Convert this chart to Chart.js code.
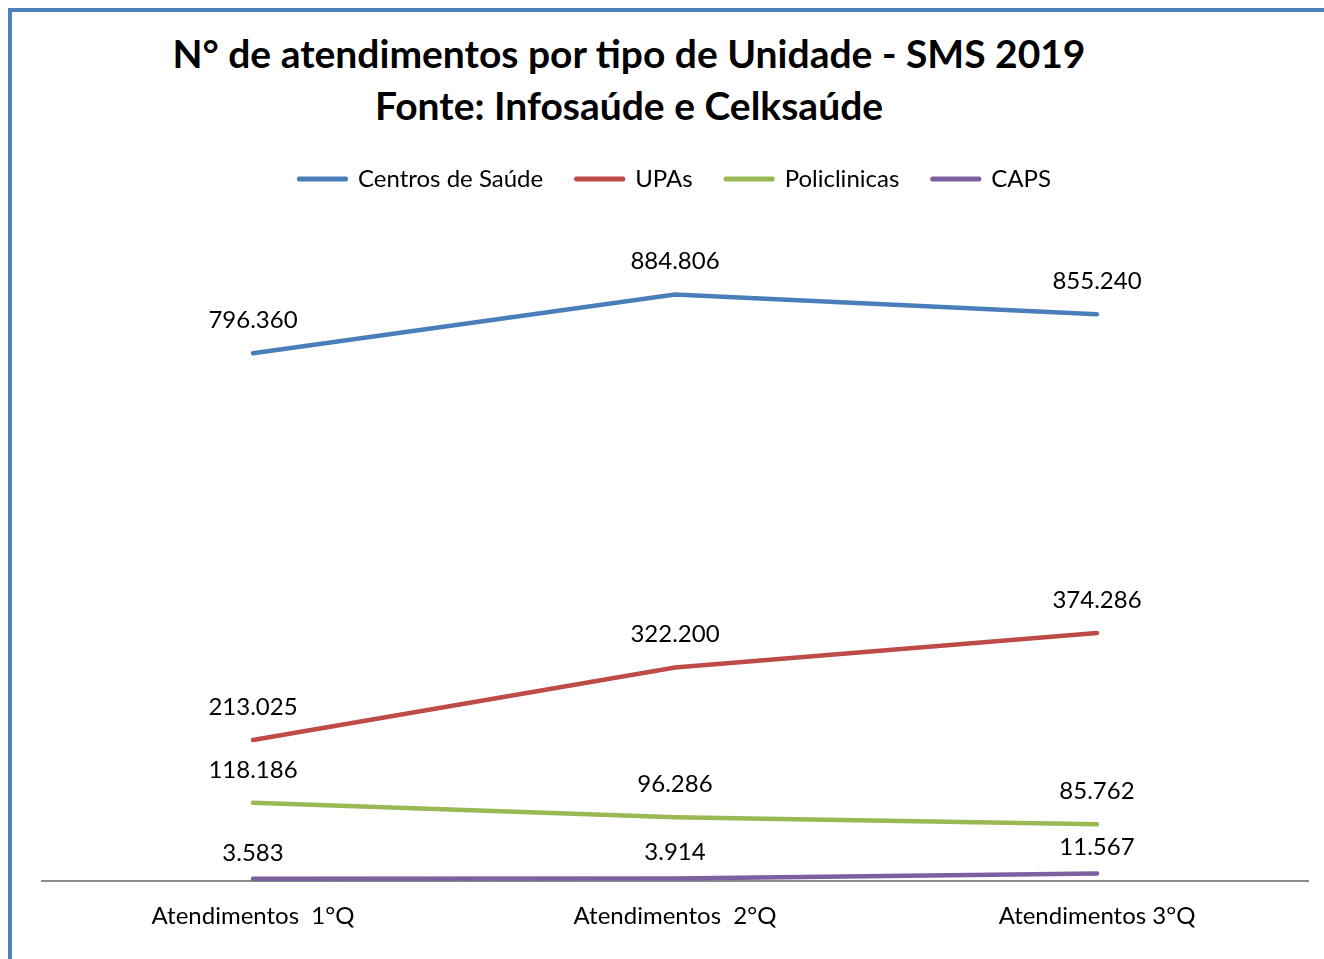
<!DOCTYPE html>
<html>
<head>
<meta charset="utf-8">
<script src="https://cdn.jsdelivr.net/npm/chart.js@4/dist/chart.umd.min.js"></script>
<style>
  html, body { margin: 0; padding: 0; background: #fff; overflow: hidden; }
  #frame {
    position: absolute; left: 8px; top: 8px; width: 1400px; height: 1000px;
    border-left: 4px solid #4F81BD; border-top: 4px solid #4F81BD;
  }
  #title {
    position: absolute; left: 0; width: 1258px; top: 27px;
    text-align: center; font-family: Lato, sans-serif; font-weight: bold;
    font-size: 39px; line-height: 52px; color: #000;
  }
  #wrap { position: absolute; left: 0; top: 0; width: 1324px; height: 959px; }
</style>
</head>
<body>
<div id="frame"></div>
<div id="title">N° de atendimentos por tipo de Unidade - SMS 2019<br>Fonte: Infosaúde e Celksaúde</div>
<div id="wrap"><canvas id="chart"></canvas></div>
<script>
// dados
const categorias = ['Atendimentos  1°Q', 'Atendimentos  2°Q', 'Atendimentos 3°Q'];
const centrosSaude = [796360, 884806, 855240];
const upas = [213025, 322200, 374286];
const policlinicas = [118186, 96286, 85762];
const caps = [3583, 3914, 11567];

const fmt = v => v.toLocaleString('de-DE');

// rótulos de valor acima de cada ponto
const valueLabels = {
    id: 'valueLabels',
    afterDatasetsDraw(chart) {
        const ctx = chart.ctx;
        ctx.save();
        ctx.font = '24px Lato, sans-serif';
        ctx.fillStyle = '#000';
        ctx.textAlign = 'center';
        ctx.textBaseline = 'middle';
        chart.data.datasets.forEach((ds, i) => {
            const meta = chart.getDatasetMeta(i);
            const off = ds.label === 'CAPS' ? 26 : 33;
            meta.data.forEach((pt, j) => {
                ctx.fillText(fmt(ds.data[j]), pt.x, pt.y - off);
            });
        });
        ctx.restore();
    }
};

const serie = (label, data, cor) => ({
    label, data,
    borderColor: cor, backgroundColor: cor,
    borderWidth: 4.5, borderCapStyle: 'round',
    pointRadius: 0, tension: 0
});

new Chart(document.getElementById('chart'), {
    type: 'line',
    data: {
        labels: categorias,
        datasets: [
            serie('Centros de Saúde', centrosSaude, '#4A7EBB'),
            serie('UPAs', upas, '#BE4B48'),
            serie('Policlinicas', policlinicas, '#98B954'),
            serie('CAPS', caps, '#7D60A0')
        ]
    },
    options: {
        responsive: true,
        maintainAspectRatio: false,
        animation: false,
        layout: { padding: { left: 42, right: 16, top: 134, bottom: 7 } },
        plugins: {
            tooltip: { enabled: false },
            // espaço entre legenda e área do gráfico
            title: { display: true, text: '', weight: 500, font: { size: 1 }, padding: { top: 0, bottom: 16 } },
            legend: {
                labels: {
                    font: { family: 'Lato, sans-serif', size: 24 },
                    color: '#000',
                    boxWidth: 47,
                    boxHeight: 1,
                    padding: 33,
                    generateLabels(chart) {
                        return Chart.defaults.plugins.legend.labels.generateLabels(chart).map(it => {
                            it.lineWidth = 4;
                            it.lineJoin = 'round';
                            return it;
                        });
                    }
                }
            }
        },
        scales: {
            x: {
                offset: true,
                grid: { display: false, drawTicks: false },
                border: { display: true, color: '#8C8C8C', width: 2 },
                ticks: { font: { family: 'Lato, sans-serif', size: 24 }, color: '#000', padding: 21, maxRotation: 0 }
            },
            y: { display: false, min: 0, max: 1000000 }
        }
    },
    plugins: [valueLabels]
});
</script>
</body>
</html>
